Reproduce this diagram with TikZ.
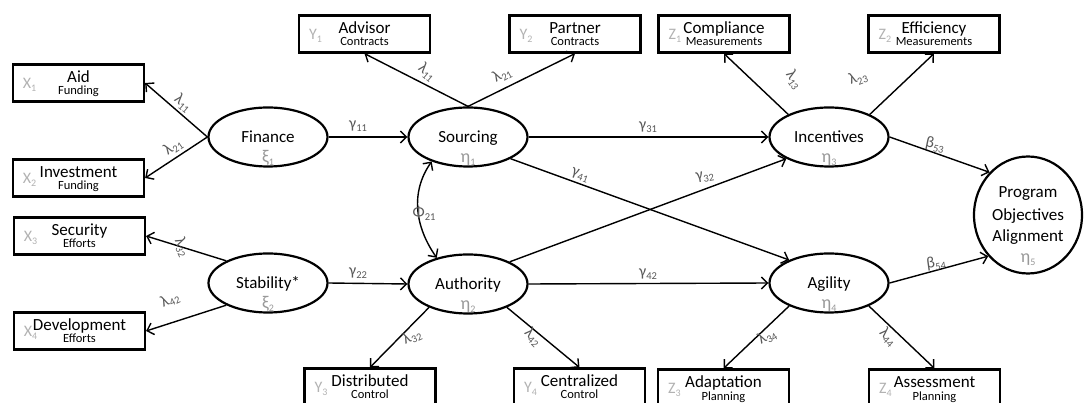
\documentclass[tikz,border=0pt]{standalone}
\usepackage{fontspec}
\setmainfont{Carlito}
\usetikzlibrary{arrows.meta,shapes.geometric}
\newcommand\cf[2]{#1\raisebox{-3pt}{\fontsize{10.5}{10.5}\selectfont #2}}
\newcommand\ix[2]{#1\raisebox{-2.5pt}{\fontsize{10}{10}\selectfont #2}}
\tikzset{
 lat/.style={ellipse,draw,line width=2.2pt,minimum width=119pt,minimum height=59pt,inner sep=0pt},
 obs/.style={rectangle,draw,line width=2.2pt,minimum width=131pt,minimum height=37pt,inner sep=0pt},
 arr/.style={line width=1.4pt,-{Straight Barb[length=6pt,width=12pt,line width=1.4pt]}},
 biarr/.style={line width=1.4pt,{Straight Barb[length=6pt,width=12pt,line width=1.4pt]}-{Straight Barb[length=6pt,width=12pt,line width=1.4pt]}},
 mainlab/.style={font=\fontsize{17}{17}\selectfont,anchor=base,inner sep=0pt},
 sublab/.style={font=\fontsize{12.5}{12.5}\selectfont,anchor=base,inner sep=0pt},
 idx/.style={font=\fontsize{16}{16}\selectfont,text=black!30,anchor=base,inner sep=0pt},
 coef/.style={font=\fontsize{16}{16}\selectfont,text=black!65,inner sep=0pt},
 lgreek/.style={font=\fontsize{18}{18}\selectfont,text=black!40,anchor=base,inner sep=0pt},
}
\newcommand\obsbox[6]{%
 \node[obs] (#1) at (#2,{#3+19}) {};
 \node[mainlab] (#1m) at (#2,{#3+19}) {#4};
 \node[sublab] (#1s) at (#2,{#3+31}) {#5};
 \node[idx] (#1i) at ({#2-49},{#3+25}) {#6};
}
\newcommand\latent[5]{%
 \node[lat] (#1) at (#2,#3) {};
 \node[mainlab] (#1m) at (#2,{#3+6}) {#4};
 \node[lgreek] (#1g) at (#2,{#3+26}) {#5};
}
\begin{document}
\begin{tikzpicture}[x=1pt,y=-1pt]
\useasboundingbox[fill=white] (0,0) rectangle (1085,403);
\begin{scope}
\clip (0,0) rectangle (1085,403);
% observed boxes
\obsbox{aid}{78.5}{64}{Aid}{Funding}{\ix{X}{1}}
\obsbox{inv}{78.5}{159}{Investment}{Funding}{\ix{X}{2}}
\obsbox{sec}{79.5}{217}{Security}{Efforts}{\ix{X}{3}}
\obsbox{dev}{79.5}{312}{Development}{Efforts}{\ix{X}{4}}
\obsbox{adv}{364.5}{15}{Advisor}{Contracts}{\ix{Y}{1}}
\obsbox{par}{575}{15}{Partner}{Contracts}{\ix{Y}{2}}
\obsbox{com}{724}{15}{Compliance}{Measurements}{\ix{Z}{1}}
\obsbox{eff}{934}{15}{Efficiency}{Measurements}{\ix{Z}{2}}
\obsbox{dis}{370}{368}{Distributed}{Control}{\ix{Y}{3}}
\obsbox{cen}{579.5}{368}{Centralized}{Control}{\ix{Y}{4}}
\obsbox{ada}{723.5}{369}{Adaptation}{Planning}{\ix{Z}{3}}
\obsbox{ass}{934.5}{369}{Assessment}{Planning}{\ix{Z}{4}}
\end{scope}
% latent
\latent{fin}{268}{137}{Finance}{\ix{ξ}{1}}
\latent{stab}{268}{283}{Stability*}{\ix{ξ}{2}}
\latent{src}{468}{137}{Sourcing}{\ix{η}{1}}
\latent{auth}{468}{284}{Authority}{\ix{η}{2}}
\latent{inc}{829}{137}{Incentives}{\ix{η}{3}}
\latent{agi}{829}{283}{Agility}{\ix{η}{4}}
\node[ellipse,draw,line width=2.2pt,minimum width=108pt,minimum height=117pt,inner sep=0pt] (poa) at (1028,215) {};
\node[mainlab] (poa1) at (1028,198) {Program};
\node[mainlab] (poa2) at (1028,221) {Objectives};
\node[mainlab] (poa3) at (1028,242) {Alignment};
\node[lgreek] (poa4) at (1028,263) {\ix{η}{5}};
% measurement arrows
\draw[arr] (fin.west) -- (aid.east);
\draw[arr] (fin.west) -- (inv.east);
\draw[arr] (stab.152) -- (sec.east);
\draw[arr] (stab.208) -- (dev.east);
\draw[arr] (src.north) -- (adv.south);
\draw[arr] (src.north) -- (par.south);
\draw[arr] (inc.151) -- (com.south);
\draw[arr] (inc.29) -- (eff.south);
\draw[arr] (auth.211) -- (dis.north);
\draw[arr] (auth.329) -- (cen.north);
\draw[arr] (agi.210) -- (ada.north);
\draw[arr] (agi.330) -- (ass.north);
% structural arrows
\draw[arr] (fin.east) -- (src.west);
\draw[arr] (stab.east) -- (auth.west);
\draw[arr] (src.east) -- (inc.west);
\draw[arr] (auth.east) -- (agi.west);
\draw[arr] (src.-27) -- (agi.150);
\draw[arr] (auth.28) -- (inc.207);
\draw[arr] (inc.east) -- (poa.132);
\draw[arr] (agi.east) -- (poa.226);
\draw[biarr] (src.214) to[out=235,in=125] (auth.140);
% coefficient labels
\node[coef] (g11) at (358,126) {\cf{γ}{11}};
\node[coef] (g22) at (358,273) {\cf{γ}{22}};
\node[coef] (g31) at (648,127) {\cf{γ}{31}};
\node[coef] (g42) at (648,274) {\cf{γ}{42}};
\node[coef,rotate=-20] (g41) at (580,175) {\cf{γ}{41}};
\node[coef,rotate=10] (g32) at (705,177) {\cf{γ}{32}};
\node[coef] (phi) at (424,213) {\cf{Φ}{21}};
\node[coef,rotate=-12] (b53) at (935,145) {\cf{β}{53}};
\node[coef,rotate=8] (b54) at (936,263) {\cf{β}{54}};
\node[coef,rotate=-40] (l11a) at (183,103) {\cf{λ}{11}};
\node[coef,rotate=35] (l21a) at (173,147) {\cf{λ}{21}};
\node[coef,rotate=-65] (l32a) at (182,247) {\cf{λ}{32}};
\node[coef,rotate=25] (l42a) at (170,300) {\cf{λ}{42}};
\node[coef,rotate=-40] (l11b) at (427,72) {\cf{λ}{11}};
\node[coef,rotate=30] (l21b) at (502,75) {\cf{λ}{21}};
\node[coef,rotate=-55] (l13) at (794,80) {\cf{λ}{13}};
\node[coef,rotate=20] (l23) at (858,78) {\cf{λ}{23}};
\node[coef,rotate=25] (l32b) at (412,337) {\cf{λ}{32}};
\node[coef,rotate=-45] (l42b) at (533,337) {\cf{λ}{42}};
\node[coef,rotate=30] (l34) at (767,337) {\cf{λ}{34}};
\node[coef,rotate=-45] (l44) at (888,337) {\cf{λ}{44}};
\end{tikzpicture}
\end{document}
